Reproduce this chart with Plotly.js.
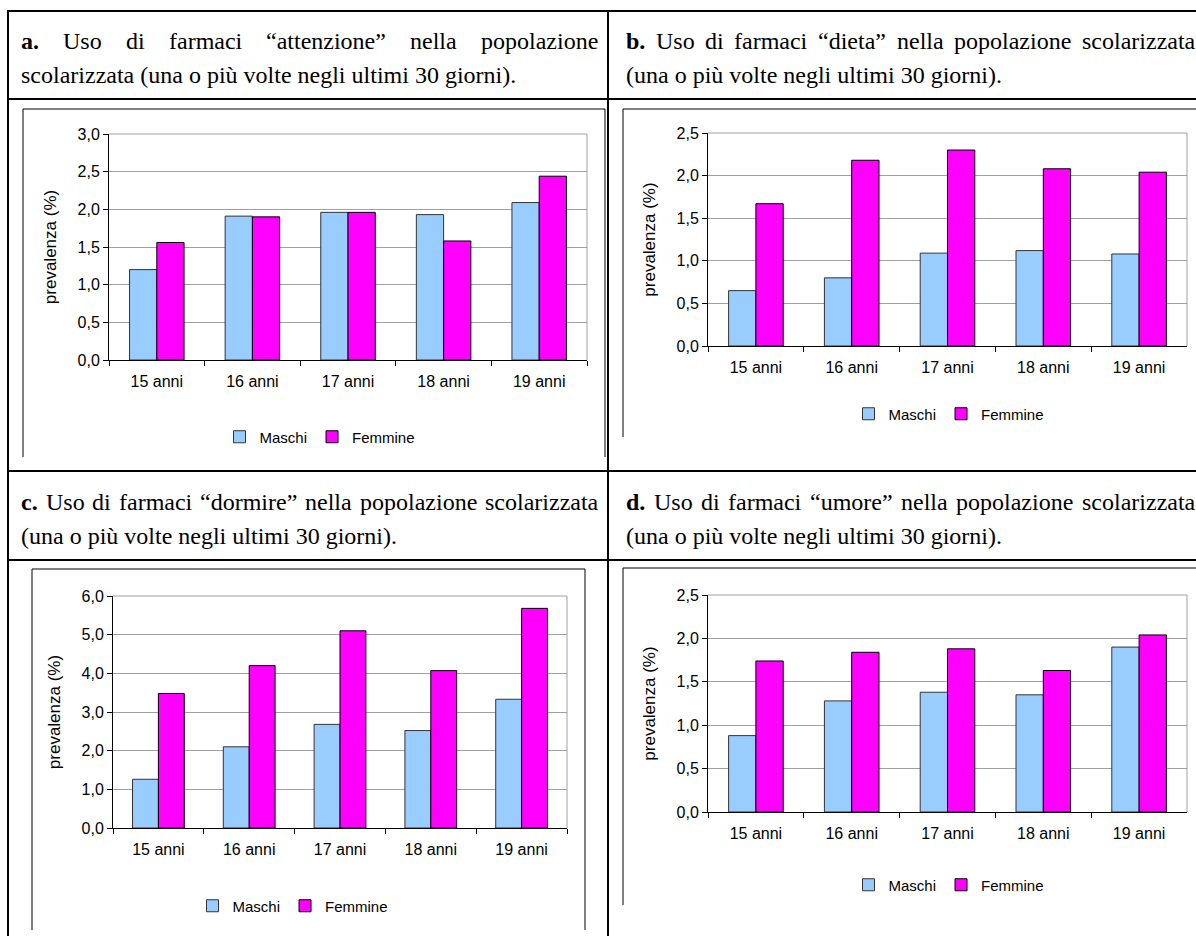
<!DOCTYPE html>
<html>
<head>
<meta charset="utf-8">
<script src="https://cdn.plot.ly/plotly-3.0.1.min.js"></script>
<style>
html,body{margin:0;padding:0;background:#fff;}
#chart{width:1196px;height:936px;}
</style>
</head>
<body>
<div id="chart"></div>
<script>
// ---------------- DATA ----------------
const categories = ['15 anni', '16 anni', '17 anni', '18 anni', '19 anni'];
const seriesNames = ['Maschi', 'Femmine'];

const maschiAttenzione  = [1.20, 1.91, 1.96, 1.93, 2.09];
const femmineAttenzione = [1.56, 1.90, 1.96, 1.58, 2.44];

const maschiDieta  = [0.65, 0.80, 1.09, 1.12, 1.08];
const femmineDieta = [1.67, 2.18, 2.30, 2.08, 2.04];

const maschiDormire  = [1.26, 2.10, 2.68, 2.52, 3.33];
const femmineDormire = [3.48, 4.20, 5.10, 4.07, 5.68];

const maschiUmore  = [0.88, 1.28, 1.38, 1.35, 1.90];
const femmineUmore = [1.74, 1.84, 1.88, 1.63, 2.04];

const yAxisTitle = 'prevalenza (%)';

const headingA1 = ['a.', 'Uso', 'di', 'farmaci', '“attenzione”', 'nella', 'popolazione'];
const headingA2 = 'scolarizzata (una o più volte negli ultimi 30 giorni).';
const headingB1 = ['b.', 'Uso', 'di', 'farmaci', '“dieta”', 'nella', 'popolazione', 'scolarizzata'];
const headingB2 = '(una o più volte negli ultimi 30 giorni).';
const headingC1 = ['c.', 'Uso', 'di', 'farmaci', '“dormire”', 'nella', 'popolazione', 'scolarizzata'];
const headingC2 = '(una o più volte negli ultimi 30 giorni).';
const headingD1 = ['d.', 'Uso', 'di', 'farmaci', '“umore”', 'nella', 'popolazione', 'scolarizzata'];
const headingD2 = '(una o più volte negli ultimi 30 giorni).';

// ---------------- LAYOUT HELPERS ----------------
const W = 1196, H = 936;
const px = x => x / W;
const py = y => 1 - y / H;

const SERIF = '"Liberation Serif", "Times New Roman", serif';
const SANS = '"Liberation Sans", Arial, sans-serif';
const HEAD_SIZE = 24;

const canvas = document.createElement('canvas');
const ctx = canvas.getContext('2d');
function measure(text, bold) {
  ctx.font = (bold ? 'bold ' : '') + HEAD_SIZE + 'px ' + SERIF;
  return ctx.measureText(text).width;
}

const annotations = [];
function justifiedLine(words, x0, x1, y) {
  const widths = words.map((w, i) => measure(w, i === 0));
  const total = widths.reduce((a, b) => a + b, 0);
  const natural = measure(' ', false);
  let gap = (x1 - x0 - total) / (words.length - 1);
  if (gap < natural) gap = natural;
  let x = x0;
  words.forEach((w, i) => {
    annotations.push({
      xref: 'paper', yref: 'paper', x: px(x), y: py(y),
      xanchor: 'left', yanchor: 'middle', showarrow: false, borderpad: 0,
      text: i === 0 ? '<b>' + w + '</b>' : w,
      font: {family: SERIF, size: HEAD_SIZE, color: '#000'}
    });
    x += widths[i] + gap;
  });
}
function plainLine(text, x0, y) {
  annotations.push({
    xref: 'paper', yref: 'paper', x: px(x0), y: py(y),
    xanchor: 'left', yanchor: 'middle', showarrow: false, borderpad: 0,
    text: text, font: {family: SERIF, size: HEAD_SIZE, color: '#000'}
  });
}

justifiedLine(headingA1, 20, 597, 41);
plainLine(headingA2, 20, 75);
justifiedLine(headingB1, 625, 1194, 41);
plainLine(headingB2, 625, 75);
justifiedLine(headingC1, 20, 597, 502);
plainLine(headingC2, 20, 536);
justifiedLine(headingD1, 625, 1194, 502);
plainLine(headingD2, 625, 536);

// ---------------- SHAPES (table + chart frames) ----------------
const shapes = [];
function hline(x0, x1, y, w, c) {
  shapes.push({type: 'line', xref: 'paper', yref: 'paper', x0: px(x0), x1: px(x1), y0: py(y), y1: py(y),
    line: {color: c || '#000', width: w}});
}
function vline(x, y0, y1, w, c) {
  shapes.push({type: 'line', xref: 'paper', yref: 'paper', x0: px(x), x1: px(x), y0: py(y0), y1: py(y1),
    line: {color: c || '#000', width: w}});
}
// table
hline(7, 1196, 11, 2);
vline(8, 10, 936, 2);
vline(608, 10, 936, 2);
hline(7, 1196, 99, 2);
hline(7, 1196, 471, 2);
hline(7, 1196, 560, 2);
// chart frames
hline(23, 605, 109, 1); vline(23, 109, 457, 1); vline(605, 109, 457, 1);
hline(623, 1196, 109, 1); vline(623, 109, 437, 1);
hline(32, 585, 569, 1); vline(32, 569, 930, 1); vline(585, 569, 930, 1);
hline(623, 1196, 568, 1); vline(623, 568, 905, 1);
// plot-area grey border (top + right)
['', '2', '3', '4'].forEach(s => {
  shapes.push({type: 'line', xref: 'x' + s + ' domain', yref: 'y' + s + ' domain', x0: 1, x1: 1, y0: 0, y1: 1,
    line: {color: '#a0a0a0', width: 1}, layer: 'below'});
  shapes.push({type: 'line', xref: 'x' + s + ' domain', yref: 'y' + s + ' domain', x0: 0, x1: 1, y0: 1, y1: 1,
    line: {color: '#a0a0a0', width: 1}, layer: 'below'});
});

// ---------------- TRACES ----------------
const panels = [
  {m: maschiAttenzione, f: femmineAttenzione, s: '',  leg: 'legend'},
  {m: maschiDieta,      f: femmineDieta,      s: '2', leg: 'legend2'},
  {m: maschiDormire,    f: femmineDormire,    s: '3', leg: 'legend3'},
  {m: maschiUmore,      f: femmineUmore,      s: '4', leg: 'legend4'}
];
const traces = [];
panels.forEach(p => {
  traces.push({type: 'bar', name: seriesNames[0], x: categories, y: p.m,
    xaxis: 'x' + p.s, yaxis: 'y' + p.s, legend: p.leg,
    marker: {color: '#99CCFF', line: {color: '#333333', width: 1}}, hoverinfo: 'skip'});
  traces.push({type: 'bar', name: seriesNames[1], x: categories, y: p.f,
    xaxis: 'x' + p.s, yaxis: 'y' + p.s, legend: p.leg,
    marker: {color: '#FF00FF', line: {color: '#000000', width: 1}}, hoverinfo: 'skip'});
});

// ---------------- AXES ----------------
function xAx(x0, x1, anchor) {
  return {domain: [px(x0), px(x1)], anchor: anchor, type: 'category',
    showline: true, linecolor: '#000', linewidth: 1,
    ticks: 'outside', tickson: 'boundaries', ticklen: 5, tickcolor: '#000',
    ticklabelstandoff: 7,
    showgrid: false, zeroline: false, fixedrange: true,
    tickfont: {family: SANS, size: 16, color: '#000'}};
}
function yAx(y0, y1, anchor, maxv, dt) {
  return {domain: [py(y0), py(y1)], anchor: anchor, range: [0, maxv], dtick: dt, tick0: 0,
    tickformat: '.1f', showline: true, linecolor: '#000', linewidth: 1,
    ticks: 'outside', ticklen: 5, tickcolor: '#000',
    showgrid: true, gridcolor: '#a0a0a0', gridwidth: 1, zeroline: false, fixedrange: true,
    tickfont: {family: SANS, size: 16, color: '#000'},
    title: {text: yAxisTitle, standoff: 16, font: {family: SANS, size: 17, color: '#000'}}};
}

function legendAt(cx, cy) {
  return {orientation: 'h', x: px(cx), y: py(cy), xanchor: 'center', yanchor: 'middle',
    bgcolor: 'rgba(0,0,0,0)', font: {family: SANS, size: 15, color: '#000'},
    itemwidth: 30, itemclick: false, itemdoubleclick: false};
}

const layout = {
  width: W, height: H, autosize: false,
  margin: {l: 0, r: 0, t: 0, b: 0, pad: 0},
  paper_bgcolor: '#fff', plot_bgcolor: '#fff',
  separators: ',.',
  barmode: 'group', bargap: 0.43, bargroupgap: 0,
  showlegend: true,
  xaxis:  xAx(109, 587, 'y'),
  yaxis:  yAx(360, 134, 'x', 3.0, 0.5),
  xaxis2: xAx(708, 1187, 'y2'),
  yaxis2: yAx(346, 133, 'x2', 2.5, 0.5),
  xaxis3: xAx(113, 567, 'y3'),
  yaxis3: yAx(828, 596, 'x3', 6.0, 1.0),
  xaxis4: xAx(708, 1187, 'y4'),
  yaxis4: yAx(812, 595, 'x4', 2.5, 0.5),
  legend:  legendAt(320, 437),
  legend2: legendAt(949, 414),
  legend3: legendAt(293, 906),
  legend4: legendAt(949, 885),
  shapes: shapes,
  annotations: annotations
};

Plotly.newPlot('chart', traces, layout, {staticPlot: true, displayModeBar: false});
</script>
</body>
</html>
